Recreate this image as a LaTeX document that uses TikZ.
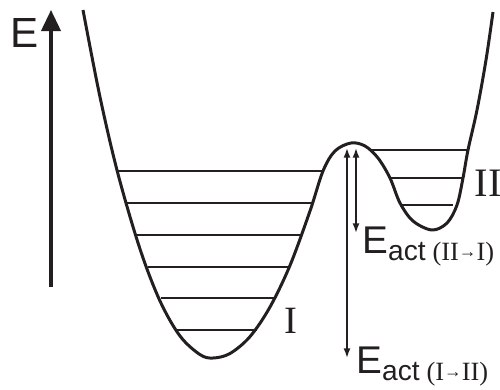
\documentclass[tikz,border=0pt]{standalone}
\usepackage{fontspec}
\setmainfont{Liberation Serif}
\setsansfont{Liberation Sans}
\usepackage{tikz}
\usetikzlibrary{arrows.meta}
\definecolor{ink}{RGB}{35,31,32}
\newcommand{\smallarr}{{\fontsize{10}{10}\selectfont\raisebox{0.3ex}{→}}}
\newcommand{\eact}[1]{{\sffamily\fontsize{22}{22}\selectfont E}%
  \raisebox{-4pt}{{\sffamily\fontsize{16}{16}\selectfont act}\hspace{4pt}%
  {\fontsize{15}{15}\selectfont(#1)}}}

\begin{document}
\begin{tikzpicture}[x=0.02cm,y=-0.02cm,
  curve/.style={draw=ink,line width=1.7pt,line join=round},
  level/.style={draw=ink,line width=1.1pt},
  axis/.style={draw=ink,line width=1.8pt,-{Triangle[width=11pt,length=12pt]}},
  gap/.style={draw=ink,line width=1pt,{Latex[length=5.5pt,width=4pt]}-{Latex[length=5.5pt,width=4pt]}},
  lbl/.style={inner sep=0pt,text=ink}]
\useasboundingbox (0,0) rectangle (500,389);
% energy axis
\coordinate (axbot) at (51,287);
\coordinate (axtop) at (51,10);
\draw[axis] (axbot) -- (axtop);
\node[lbl,anchor=base west,font=\sffamily\fontsize{24}{24}\selectfont] (elabel) at (10,47) {E};
% double well
\draw[curve] plot[smooth,tension=0.55] coordinates {(83,10) (100,97) (118,174)
  (140,249) (160,301) (180,336) (200,354.6) (213,358) (230,353.5) (250,336.6)
  (270,307) (290,265.4) (310,211) (323,171) (335,151) (351,143) (365,146)
  (378,158) (390,178) (400,203) (413,221) (432,230) (447,223) (457,205)
  (463,178) (468,150) (477,110) (486,60) (493,12)};
% levels of well I
\foreach \y/\xa/\xb in {171/118/323,203/127/312,235/136/301,267/148/289,298/161/275,330/176/257}
  \draw[level] (\xa,\y) -- (\xb,\y);
% levels of well II
\foreach \y/\xa/\xb in {150/369/468,178/390/463,205/400/453}
  \draw[level] (\xa,\y) -- (\xb,\y);
\node[lbl,font=\fontsize{22}{22}\selectfont] (wellI) at (291,321) {I};
\node[lbl,font=\fontsize{23}{23}\selectfont] (wellII) at (488,183) {II};
% activation energies
\coordinate (topA) at (347,148);
\coordinate (botA) at (347,358);
\coordinate (topB) at (356,148);
\coordinate (botB) at (356,233);
\draw[gap] (botA) -- (topA);
\draw[gap] (botB) -- (topB);
\node[lbl,anchor=base west] (eII) at (362,253) {\eact{II\smallarr I}};
\node[lbl,anchor=base west] (eI) at (356,373) {\eact{I\smallarr II}};
\end{tikzpicture}
\end{document}
